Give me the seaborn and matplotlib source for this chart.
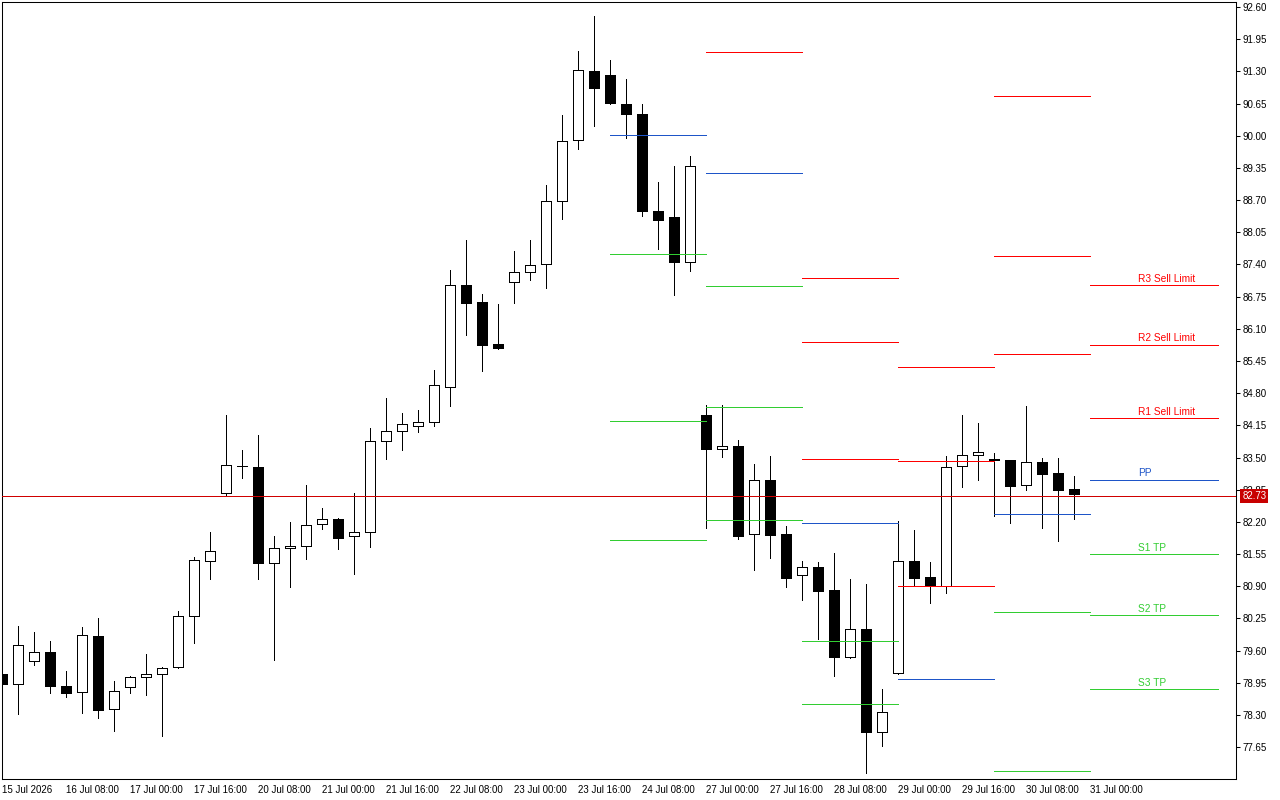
import numpy as np
import pandas as pd
import matplotlib
matplotlib.use('Agg')
import matplotlib.pyplot as plt
import seaborn as sns

# 4h candles, 15 Jul 2026 16:00 -> 31 Jul 2026 00:00 (weekend bars skipped)
opens = [79.13, 78.92, 79.38, 79.57, 78.89, 78.76, 79.89, 78.42, 78.86, 79.07,
         79.12, 79.26, 80.29, 81.41, 82.78, 83.32, 83.30, 81.36, 81.67, 81.71,
         82.15, 82.26, 81.91, 82.00, 83.83, 84.04, 84.14, 84.21, 84.93, 86.98,
         86.64, 85.79, 87.05, 87.24, 87.40, 88.68, 89.91, 91.31, 91.22, 90.64,
         90.45, 88.49, 88.35, 87.46, 84.36, 83.68, 83.73, 81.95, 83.05, 81.96,
         81.12, 81.28, 80.82, 79.47, 80.03, 77.95, 79.14, 81.42, 81.08, 80.91,
         83.32, 83.55, 83.48, 83.46, 82.94, 83.42, 83.18, 82.86, 82.73]
highs = [79.16, 80.09, 79.97, 79.79, 79.19, 80.08, 80.26, 78.99, 79.08, 79.53,
         79.27, 80.40, 81.49, 81.99, 84.36, 83.65, 83.96, 81.91, 82.19, 82.94,
         82.48, 82.28, 82.78, 84.09, 84.70, 84.40, 84.47, 85.26, 87.29, 87.89,
         86.80, 86.60, 87.67, 87.89, 89.00, 90.42, 91.71, 92.42, 91.53, 91.15,
         90.64, 89.07, 89.39, 89.59, 84.56, 84.56, 83.85, 83.37, 83.53, 82.12,
         81.41, 81.39, 81.57, 81.05, 80.95, 78.82, 82.22, 82.04, 81.39, 83.53,
         84.36, 84.20, 83.59, 83.46, 84.54, 83.50, 83.50, 83.12, 82.73]
lows = [78.90, 78.31, 79.31, 78.75, 78.67, 78.33, 78.24, 77.98, 78.75, 78.71,
        77.88, 79.24, 79.76, 81.05, 82.74, 83.09, 81.05, 79.42, 80.89, 81.46,
        82.06, 81.66, 81.15, 81.70, 83.48, 83.65, 84.02, 84.13, 84.55, 85.98,
        85.25, 85.70, 86.63, 87.09, 86.93, 88.31, 89.74, 90.20, 90.65, 89.96,
        88.37, 87.72, 86.79, 87.27, 82.08, 83.52, 81.86, 81.23, 81.48, 80.89,
        80.63, 79.84, 79.09, 79.46, 77.13, 77.68, 79.12, 80.90, 80.57, 80.77,
        82.91, 83.05, 82.31, 82.18, 82.85, 82.08, 81.82, 82.26, 82.73]
closes = [78.93, 79.71, 79.57, 78.88, 78.75, 79.91, 78.39, 78.78, 79.07, 79.12,
          79.24, 80.29, 81.43, 81.61, 83.34, 83.33, 81.36, 81.67, 81.71, 82.13,
          82.25, 81.88, 81.99, 83.83, 84.04, 84.17, 84.21, 84.96, 86.98, 86.63,
          85.78, 85.72, 87.24, 87.38, 88.68, 89.89, 91.32, 90.97, 90.67, 90.45,
          88.49, 88.30, 87.46, 89.40, 83.68, 83.73, 81.92, 83.05, 81.94, 81.07,
          81.28, 80.81, 79.47, 80.03, 77.95, 78.35, 81.42, 81.07, 80.91, 83.30,
          83.55, 83.61, 83.45, 82.93, 83.42, 83.17, 82.85, 82.77, 82.73]

x_tick_labels = ['15 Jul 2026', '16 Jul 08:00', '17 Jul 00:00', '17 Jul 16:00',
                 '20 Jul 08:00', '21 Jul 00:00', '21 Jul 16:00', '22 Jul 08:00',
                 '23 Jul 00:00', '23 Jul 16:00', '24 Jul 08:00', '27 Jul 00:00',
                 '27 Jul 16:00', '28 Jul 08:00', '29 Jul 00:00', '29 Jul 16:00',
                 '30 Jul 08:00', '31 Jul 00:00']
y_ticks = [77.65, 78.30, 78.95, 79.60, 80.25, 80.90, 81.55, 82.20, 82.85, 83.50,
           84.15, 84.80, 85.45, 86.10, 86.75, 87.40, 88.05, 88.70, 89.35, 90.00,
           90.65, 91.30, 91.95, 92.60]
bid = 82.73

# daily pivot levels, None = outside the visible range
pivot_days = ['2026-07-24', '2026-07-27', '2026-07-28', '2026-07-29', '2026-07-30', '2026-07-31']
r3 = [None, None, 87.12, 85.32, 90.80, 86.98]
r2 = [None, None, 85.83, 83.44, 87.57, 85.78]
r1 = [None, 91.69, 83.47, 80.90, 85.59, 84.29]
pp = [90.01, 89.25, 82.17, 79.02, 82.35, 83.05]
s1 = [87.61, 86.97, 79.79, None, 80.37, 81.55]
s2 = [84.24, 84.52, 78.52, None, 77.17, 80.31]
s3 = [81.83, 82.24, None, None, None, 78.82]
level_names = ['R3', 'R2', 'R1', 'PP', 'S1', 'S2', 'S3']
level_text = ['R3 Sell Limit', 'R2 Sell Limit', 'R1 Sell Limit', 'PP', 'S1 TP', 'S2 TP', 'S3 TP']

RED = '#FF0000'
BLUE = '#1E55C8'
GREEN = '#32CD32'
level_colors = {'R3': RED, 'R2': RED, 'R1': RED, 'PP': BLUE, 'S1': GREEN, 'S2': GREEN, 'S3': GREEN}
LW = 0.5  # thin crisp 1px lines (antialiasing off)

sns.set_style('white')
plt.rcParams['font.family'] = ['Liberation Sans', 'DejaVu Sans']

times = pd.date_range('2026-07-15 16:00', '2026-07-31 00:00', freq='4h')
times = times[times.dayofweek < 5]
candles = pd.DataFrame({'time': times, 'open': opens, 'high': highs,
                        'low': lows, 'close': closes})
candles['x'] = np.arange(len(candles))

# long table of pivot segments: one segment per day and level
starts = [int(np.searchsorted(times, pd.Timestamp(d))) for d in pivot_days]
ends = starts[1:] + [starts[-1] + 8]
levels = dict(zip(level_names, [r3, r2, r1, pp, s1, s2, s3]))
rows = []
for k, (a, b) in enumerate(zip(starts, ends)):
    for name in level_names:
        v = levels[name][k]
        if v is None:
            continue
        seg = '{}_{}'.format(k, name)
        rows.append({'x': a, 'price': v, 'level': name, 'seg': seg})
        rows.append({'x': b, 'price': v, 'level': name, 'seg': seg})
pivots = pd.DataFrame(rows)

fig = plt.figure(figsize=(12.8, 8), dpi=100)
ax = fig.add_axes([2 / 1280, 21 / 800, 1234 / 1280, 776.7 / 800])

# candles
up = candles['close'] >= candles['open']
ax.vlines(candles['x'], candles['low'], candles['high'], color='black', lw=LW,
          antialiased=False, zorder=2)
body_lo = candles[['open', 'close']].min(axis=1)
body_h = (candles['close'] - candles['open']).abs()
ax.bar(candles['x'], body_h, bottom=body_lo, width=0.62,
       color=np.where(up, 'white', 'black'), edgecolor='black', linewidth=LW,
       antialiased=False, zorder=3)

# pivot lines
sns.lineplot(data=pivots, x='x', y='price', hue='level', units='seg', estimator=None,
             palette=level_colors, legend=False, sort=False, lw=LW, antialiased=False,
             ax=ax, zorder=4)

# labels for the current day's levels
last = len(pivot_days) - 1
for name, txt in zip(level_names, level_text):
    v = levels[name][last]
    ax.annotate(txt, xy=(starts[last] + 3.0, v), xytext=(0, 1), textcoords='offset points',
                ha='left', va='bottom', fontsize=7.3, color=level_colors[name], zorder=6)

# bid line and price box
ax.axhline(bid, color='#D00000', lw=LW, antialiased=False, zorder=5)
ax.annotate('{:.2f}'.format(bid), xy=(1, bid), xycoords=('axes fraction', 'data'),
            xytext=(4.5, 0), textcoords='offset points', ha='left', va='center',
            fontsize=7, color='white', annotation_clip=False, zorder=10,
            bbox=dict(boxstyle='square,pad=0.2', fc='#C80000', ec='none'))

ax.set_xlim(0, 77.1)
ax.set_ylim(77.006, 92.697)
ax.yaxis.tick_right()
ax.set_yticks(y_ticks)
ax.set_yticklabels(['{:.2f}'.format(t) for t in y_ticks])
ax.set_xticks(range(0, 4 * len(x_tick_labels), 4))
ax.set_xticklabels(x_tick_labels, ha='left')
ax.tick_params(axis='both', direction='out', length=3, width=0.75, labelsize=7,
               colors='black', pad=1.5)
ax.set_xlabel('')
ax.set_ylabel('')
for sp in ax.spines.values():
    sp.set_visible(True)
    sp.set_color('black')
    sp.set_linewidth(0.75)

fig.savefig('out.png', dpi=100, facecolor='white')
